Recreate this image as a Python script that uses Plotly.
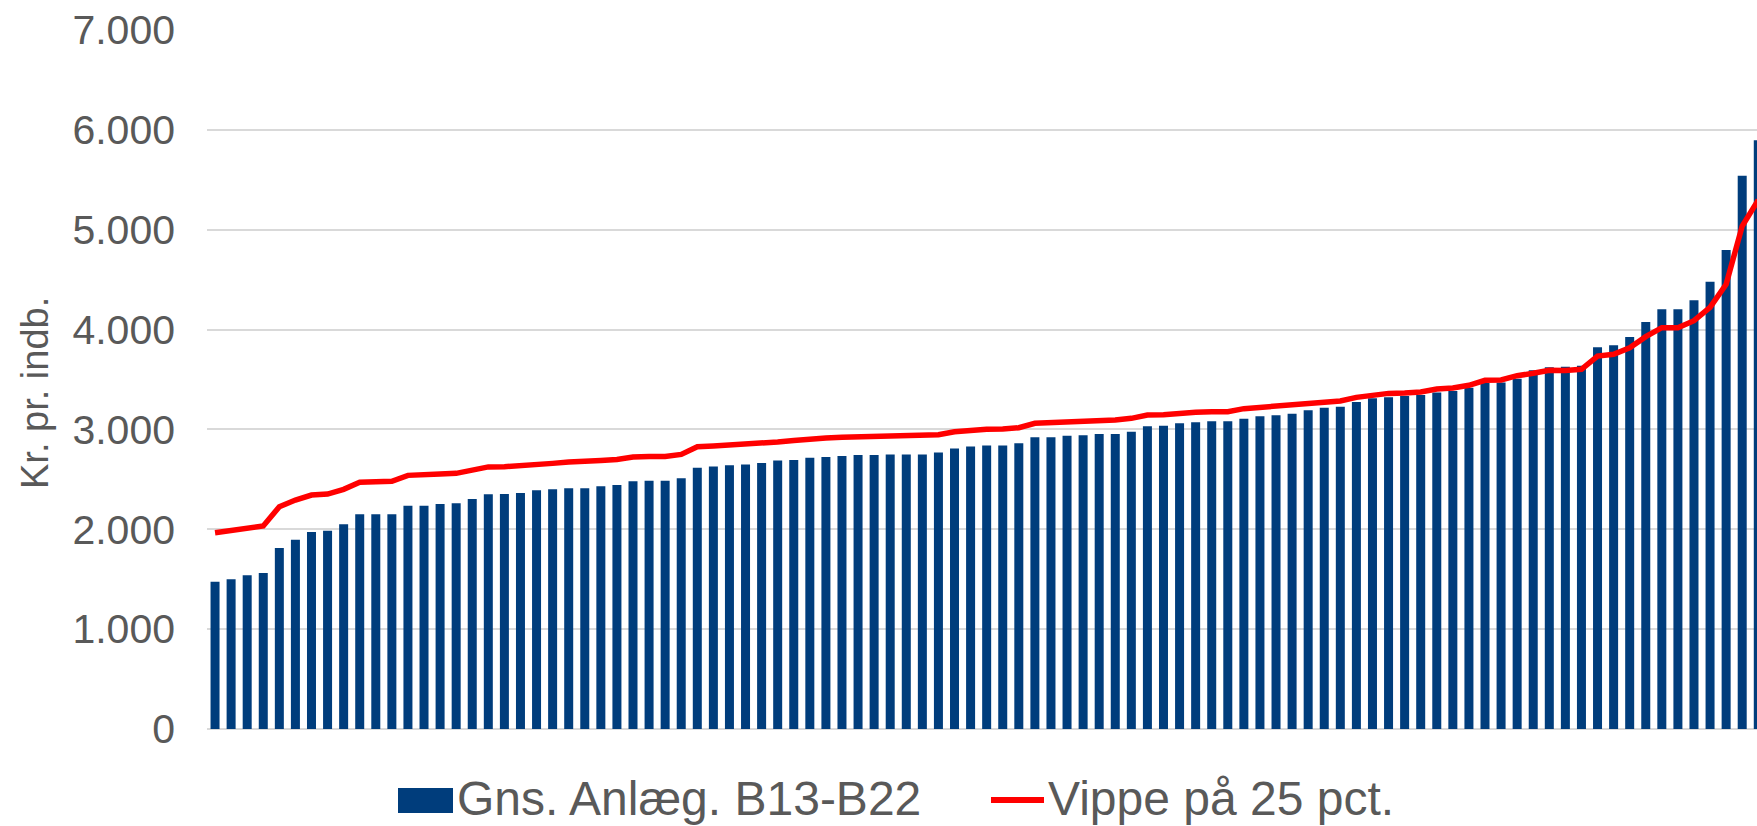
import plotly.graph_objects as go

# Values (kr. pr. indbygger), sorted ascending
gns_anlaeg = [
    1475, 1499, 1539, 1562, 1813, 1896, 1973, 1986, 2050, 2150,
    2150, 2150, 2236, 2236, 2253, 2260, 2303, 2350, 2353, 2363,
    2390, 2400, 2410, 2410, 2430, 2443, 2480, 2487, 2487, 2510,
    2617, 2630, 2641, 2650, 2664, 2690, 2694, 2717, 2724, 2734,
    2744, 2744, 2750, 2750, 2750, 2770, 2810, 2830, 2840, 2840,
    2861, 2921, 2921, 2937, 2941, 2954, 2954, 2977, 3031, 3038,
    3061, 3071, 3081, 3081, 3108, 3131, 3141, 3158, 3191, 3218,
    3228, 3275, 3313, 3321, 3335, 3345, 3371, 3385, 3418, 3465,
    3471, 3508, 3592, 3622, 3628, 3638, 3822, 3842, 3925, 4076,
    4203, 4203, 4293, 4480, 4797, 5541, 5895,
]

vippe_25 = [
    1966, 1990, 2020, 2033, 2226, 2293, 2343, 2353, 2400, 2470,
    2477, 2480, 2540, 2540, 2553, 2560, 2593, 2625, 2627, 2634,
    2654, 2660, 2674, 2677, 2690, 2700, 2724, 2730, 2730, 2750,
    2827, 2834, 2841, 2847, 2857, 2874, 2890, 2907, 2914, 2921,
    2924, 2927, 2931, 2931, 2934, 2947, 2977, 2994, 3001, 3004,
    3017, 3061, 3067, 3074, 3075, 3088, 3094, 3111, 3144, 3148,
    3164, 3171, 3178, 3178, 3208, 3221, 3228, 3241, 3261, 3278,
    3285, 3321, 3345, 3361, 3365, 3375, 3405, 3415, 3442, 3492,
    3495, 3538, 3562, 3592, 3590, 3602, 3735, 3752, 3818, 3929,
    4019, 4019, 4089, 4223, 4453, 5037, 5297,
]

categories = list(range(len(gns_anlaeg)))
y_ticks = [0, 1000, 2000, 3000, 4000, 5000, 6000, 7000]

series_names = ["Gns. Anlæg. B13-B22", "Vippe på 25 pct."]
bar_color = "#003D7C"
line_color = "#FF0000"
text_color = "#595959"
grid_color = "#D9D9D9"
FONT = "Liberation Sans, Arial, sans-serif"

W, H = 1757, 826
ML, MR, MT, MB = 207, 0, 30, 97
PW, PH = W - ML - MR, H - MT - MB


def px_x(px):
    return (px - ML) / PW


def px_y(py):
    return (H - MB - py) / PH


fig = go.Figure()
fig.add_trace(go.Bar(
    x=categories, y=gns_anlaeg, name=series_names[0],
    marker=dict(color=bar_color, line=dict(width=0)),
    showlegend=False,
))
fig.add_trace(go.Scatter(
    x=categories, y=vippe_25, name=series_names[1], mode="lines",
    line=dict(color=line_color, width=5.5),
    showlegend=False,
))

fig.update_layout(
    width=W, height=H,
    margin=dict(l=ML, r=MR, t=MT, b=MB, pad=0),
    paper_bgcolor="white", plot_bgcolor="white",
    bargap=0.44,
    separators=",.",
    font=dict(family=FONT, color=text_color),
    xaxis=dict(
        range=[-0.5, 95.92], showticklabels=False, showgrid=False,
        zeroline=False, showline=False, ticks="",
    ),
    yaxis=dict(
        range=[0, 7000], tickvals=y_ticks, tickformat=",d",
        showgrid=True, gridcolor=grid_color, gridwidth=1.5,
        zeroline=True, zerolinecolor=grid_color, zerolinewidth=1.5,
        showline=False, ticks="",
        tickfont=dict(family=FONT, size=41, color=text_color),
        ticklabelstandoff=31,
    ),
)

# Y axis title
fig.add_annotation(
    x=px_x(35), y=px_y(393), xref="paper", yref="paper",
    text="Kr. pr. indb.", textangle=-90, showarrow=False,
    xanchor="center", yanchor="middle",
    font=dict(family=FONT, size=38, color=text_color),
)

# Legend (drawn below the plot)
fig.add_shape(
    type="rect", xref="paper", yref="paper",
    x0=px_x(398), x1=px_x(453), y0=px_y(813), y1=px_y(788),
    fillcolor=bar_color, line=dict(width=0),
)
fig.add_annotation(
    x=px_x(455), y=px_y(798), xref="paper", yref="paper",
    text=series_names[0], showarrow=False, xanchor="left", yanchor="middle",
    font=dict(family=FONT, size=48, color=text_color),
)
fig.add_shape(
    type="line", xref="paper", yref="paper",
    x0=px_x(991), x1=px_x(1044), y0=px_y(800), y1=px_y(800),
    line=dict(color=line_color, width=6),
)
fig.add_annotation(
    x=px_x(1046), y=px_y(798), xref="paper", yref="paper",
    text=series_names[1], showarrow=False, xanchor="left", yanchor="middle",
    font=dict(family=FONT, size=48, color=text_color),
)

fig.write_html(
    "out.html",
    config={"displayModeBar": False},
    post_script="document.body.style.margin='0';document.body.style.overflow='hidden';",
)
